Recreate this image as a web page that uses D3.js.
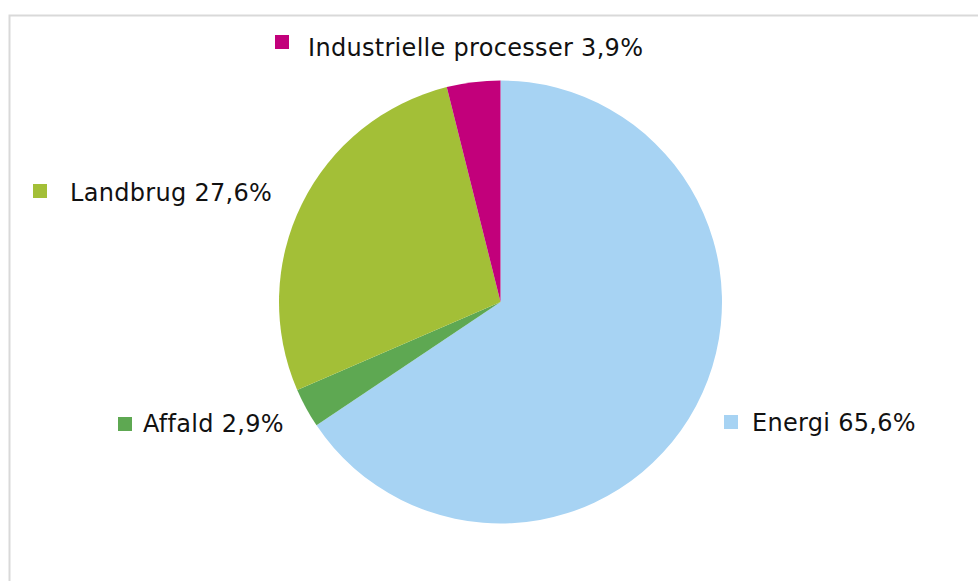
<!DOCTYPE html>
<html>
<head>
<meta charset="utf-8">
<script src="https://cdn.jsdelivr.net/npm/d3@7"></script>
<style>
  html, body { margin: 0; padding: 0; background: #fff; }
  svg { display: block; }
  text { font-family: "DejaVu Sans", Verdana, sans-serif; font-size: 24px; letter-spacing: 0.3px; fill: #111; }
</style>
</head>
<body>
<svg id="chart" width="978" height="581"></svg>
<script>
// Data (clockwise from 12 o'clock)
const categories = ["Energi", "Affald", "Landbrug", "Industrielle processer"];
const values = [65.6, 2.9, 27.6, 3.9];
const valueLabels = ["65,6%", "2,9%", "27,6%", "3,9%"];
const colors = ["#a7d3f3", "#5ea852", "#a3bf37", "#c2007b"];

// Legend label anchor positions (layout)
const legendPos = [
  { sx: 724, sy: 415, tx: 752, ty: 431 },
  { sx: 118, sy: 417, tx: 143, ty: 432 },
  { sx: 33,  sy: 184, tx: 70,  ty: 201 },
  { sx: 275, sy: 35,  tx: 308, ty: 56 }
];

const svg = d3.select("#chart");

// Frame
svg.append("rect")
  .attr("x", 9.5).attr("y", 15.5)
  .attr("width", 1000).attr("height", 1000)
  .attr("fill", "none")
  .attr("stroke", "#d9d9d9")
  .attr("stroke-width", 2);

const cx = 500.5, cy = 302, r = 221.5;

const pie = d3.pie().sort(null).value(d => d.value);
const arc = d3.arc().innerRadius(0).outerRadius(r);

const data = categories.map((c, i) => ({ name: c, value: values[i], color: colors[i], label: valueLabels[i], pos: legendPos[i] }));

const g = svg.append("g").attr("transform", `translate(${cx},${cy})`);
g.selectAll("path")
  .data(pie(data))
  .join("path")
  .attr("d", arc)
  .attr("fill", d => d.data.color);

// Labels
const lg = svg.append("g");
data.forEach(d => {
  lg.append("rect")
    .attr("x", d.pos.sx).attr("y", d.pos.sy)
    .attr("width", 14).attr("height", 14)
    .attr("fill", d.color);
  lg.append("text")
    .attr("x", d.pos.tx).attr("y", d.pos.ty)
    .text(d.name + " " + d.label);
});
</script>
</body>
</html>
